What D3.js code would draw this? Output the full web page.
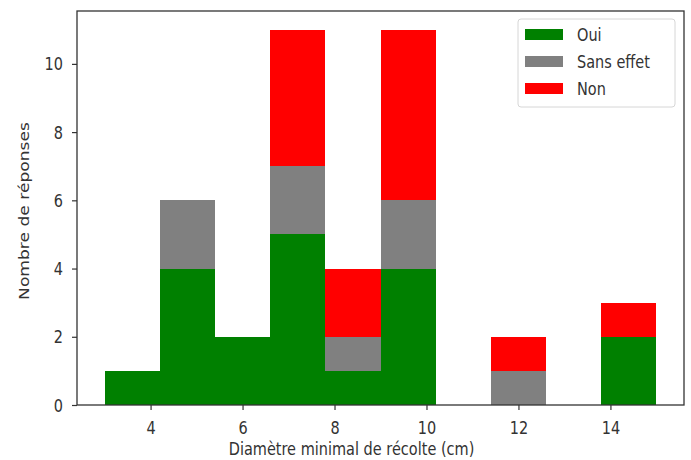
<!DOCTYPE html>
<html>
<head>
<meta charset="utf-8">
<script src="https://cdn.jsdelivr.net/npm/d3@7"></script>
<style>
  html, body { margin: 0; padding: 0; background: #fff; }
  svg { display: block; font-family: "DejaVu Sans", sans-serif; }
</style>
</head>
<body>
<svg id="chart" width="691" height="460"></svg>
<script>
// Histogram bin edges (cm) and stacked counts per bin
const binEdges = [3, 4.2, 5.4, 6.6, 7.8, 9, 10.2, 11.4, 12.6, 13.8, 15];
const oui       = [1, 4, 2, 5, 1, 4, 0, 0, 0, 2];
const sansEffet = [0, 2, 0, 2, 1, 2, 0, 1, 0, 0];
const non       = [0, 0, 0, 4, 2, 5, 0, 1, 0, 1];

const seriesNames  = ["Oui", "Sans effet", "Non"];
const seriesColors = ["#008000", "#808080", "#ff0000"];
const xTicks = [4, 6, 8, 10, 12, 14];
const yTicks = [0, 2, 4, 6, 8, 10];

const xLabel = "Diamètre minimal de récolte (cm)";
const yLabel = "Nombre de réponses";

const svg = d3.select("#chart");
const margin = { left: 77, right: 7, top: 11, bottom: 55 };
const W = 691, H = 460;
const plotW = W - margin.left - margin.right;
const plotH = H - margin.top - margin.bottom;

// Text is drawn slightly taller than wide
const fontPx = 14.5;
const stretch = 1.18;
const textColor = "#333";

const g = svg.append("g").attr("transform", `translate(${margin.left},${margin.top})`);

const x = d3.scaleLinear().domain([2.4, 15.6]).range([0, plotW]);
const y = d3.scaleLinear().domain([0, 11.55]).range([plotH, 0]);

// Build stacked rows from the series arrays
const rows = oui.map((v, i) => ({
  x0: binEdges[i], x1: binEdges[i + 1],
  "Oui": v, "Sans effet": sansEffet[i], "Non": non[i]
}));
const stacked = d3.stack().keys(seriesNames)(rows);

stacked.forEach((layer, si) => {
  g.append("g").attr("fill", seriesColors[si]).attr("shape-rendering", "crispEdges")
    .selectAll("rect")
    .data(layer.filter(d => d[1] - d[0] > 0))
    .join("rect")
    .attr("x", d => x(d.data.x0))
    .attr("width", d => x(d.data.x1) - x(d.data.x0))
    .attr("y", d => y(d[1]))
    .attr("height", d => y(d[0]) - y(d[1]));
});

// Axes
const xAxis = g.append("g").attr("transform", `translate(0,${plotH})`)
  .call(d3.axisBottom(x).tickValues(xTicks).tickSize(5).tickFormat(d3.format("d")));
const yAxis = g.append("g")
  .call(d3.axisLeft(y).tickValues(yTicks).tickSize(5).tickFormat(d3.format("d")));
[xAxis, yAxis].forEach(a => {
  a.select(".domain").remove();
  a.selectAll(".tick line").attr("stroke", textColor).attr("stroke-width", 1.2);
  a.selectAll(".tick text").attr("fill", textColor).style("font-size", fontPx + "px")
    .style("font-family", "DejaVu Sans, sans-serif");
});
xAxis.selectAll(".tick text")
  .attr("y", 0).attr("dy", null)
  .attr("transform", `translate(0,${16.5}) scale(1,${stretch})`)
  .attr("dominant-baseline", "hanging");
yAxis.selectAll(".tick text")
  .attr("x", 0).attr("dy", "0.35em")
  .attr("transform", `translate(-14,0) scale(1,${stretch})`);

// Frame (spines)
g.append("rect").attr("x", 0).attr("y", 0).attr("width", plotW).attr("height", plotH)
  .attr("fill", "none").attr("stroke", textColor).attr("stroke-width", 1.3);

// Axis titles
svg.append("text")
  .attr("transform", `translate(${margin.left + plotW / 2 - 29},455) scale(1,${stretch})`)
  .attr("text-anchor", "middle").attr("fill", textColor)
  .style("font-size", fontPx + "px").text(xLabel);
svg.append("text")
  .attr("transform", `translate(29,211) scale(1,${stretch}) rotate(-90)`)
  .attr("text-anchor", "middle").attr("fill", textColor)
  .style("font-size", fontPx + "px").text(yLabel);

// Legend
const lg = svg.append("g").attr("transform", "translate(518,19)");
lg.append("rect").attr("x", 0).attr("y", 0).attr("width", 157).attr("height", 88)
  .attr("rx", 3).attr("fill", "#fff").attr("fill-opacity", 0.8)
  .attr("stroke", "#d6d6d6").attr("stroke-width", 1);
seriesNames.forEach((name, i) => {
  const yy = 15.5 + i * 27;
  lg.append("rect").attr("x", 7).attr("y", yy - 5.5).attr("width", 38).attr("height", 11)
    .attr("fill", seriesColors[i]);
  lg.append("text")
    .attr("transform", `translate(59,${yy}) scale(1,${stretch})`)
    .attr("dy", "0.35em")
    .attr("fill", textColor).style("font-size", fontPx + "px").text(name);
});
</script>
</body>
</html>
